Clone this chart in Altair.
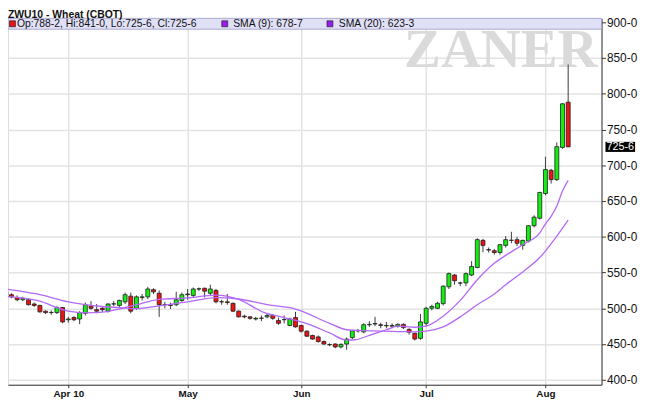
import altair as alt
import pandas as pd

# ---------------- data (trading-day index, 0 = 1 Apr 2010) ----------------
days = list(range(-11, 89))
opens = [518, 519, 515, 512, 512, 506, 504, 496, 494, 494, 501,
         484, 487, 485, 493, 503, 498, 500, 496, 506, 504, 509, 517, 500, 515, 516, 526, 521, 505, 505, 505,
         511, 519, 518, 527, 528, 521, 525, 509, 509, 507, 496, 489, 488, 485, 486, 488, 490, 483, 484, 476,
         487, 476, 468, 462, 460, 453.5, 449, 450, 446, 450, 459, 468.5, 467, 477, 478, 477, 476, 475, 475, 477.5,
         470.5, 465, 458, 479, 500, 500, 506.5, 530, 546.5, 535.5, 535.5, 546.5, 557, 595, 582, 580.5, 578, 588,
         595, 596, 588, 594, 615.5, 626, 660.5, 693, 680, 725, 788.25]
highs = [525, 521, 518, 516, 514, 508, 505, 497, 497, 503, 502,
         488, 489, 496, 508, 510, 506, 503, 507, 510, 512, 522, 522, 518, 520, 530, 528, 525, 509, 508, 523,
         522, 527, 529, 529, 529, 533, 527, 512, 520, 508, 497, 491, 489, 488, 490, 492, 492, 487, 490, 487,
         495, 477, 469, 463, 462, 455, 451, 451, 451, 459, 470, 471, 479, 482, 488, 480, 481, 479, 479, 479,
         472, 466, 492, 502, 505, 509, 532, 550, 548, 537, 550, 566, 598, 597, 585, 583, 590, 601,
         607, 600, 596, 616, 630, 663, 712, 695, 732, 787, 841]
lows = [516, 514, 510, 510, 504, 502, 494, 492, 491, 492, 479,
        480, 482, 478, 490, 498, 493, 495, 494, 503, 502, 506, 493, 498, 511, 513, 520, 488, 500, 499, 503,
        509, 512, 515, 524, 515, 518, 507, 505, 505, 495, 487, 486, 484, 483, 482, 486, 484, 477, 479, 475,
        473, 466, 460, 456, 452, 449, 447, 444, 444, 442, 457, 466, 465, 474, 475, 472, 472, 472, 473, 471,
        463, 455, 456, 475, 497, 499, 504, 527, 533, 531, 531, 545, 556, 578.5, 578, 575, 575, 585,
        591, 587, 582, 592, 613, 624, 658, 674.5, 678, 723, 725.75]
closes = [523, 516, 512, 514, 505, 504, 495, 494, 494.25, 501, 481,
          485, 484, 494, 505, 500, 496, 498, 506, 506.25, 511, 519, 496, 516, 516, 527, 523, 505, 505.25, 504, 512,
          519, 520, 527, 527.25, 524, 527, 509, 509.25, 508, 496, 488, 488, 486, 486, 486.25, 490, 486, 479, 484.25, 485,
          474, 468, 461, 457, 453.5, 450, 449.25, 446, 449.5, 457, 468.5, 468.75, 477, 477.5, 478.75, 476, 475.5, 476, 477.5, 473,
          466.5, 457, 481, 500, 502.5, 507, 531, 548.5, 538.5, 535.25, 548.5, 558.5, 596, 588, 581.5, 578, 589, 596,
          595.25, 591, 595, 615.5, 627.5, 662, 694, 680, 726, 786, 725.75]

sma9_days = [-11, -5.5, 0, 3, 6, 9, 12, 16, 21, 26, 30, 34.5, 38, 42, 46, 49, 50.5, 53, 56, 58, 61, 63,
             66, 69, 72, 75, 77, 80, 83, 84, 85, 86, 87, 88]
sma9_vals = [516.5, 511, 496, 493.5, 494.5, 499, 505, 512.5, 514.5, 518.5, 512.5, 494, 487, 478.5, 465.5, 455.5, 456,
             462, 470, 475, 473.5, 475, 489, 511, 540, 563, 574, 589, 605.5, 618, 628.5, 643, 664, 678.9]
sma20_days = [-11, -5.5, 0, 3, 6, 9, 12, 16, 21, 26, 30, 35, 40, 46, 49, 52, 55, 58, 61, 63,
              66, 69, 72, 75, 77, 80, 83, 86, 88]
sma20_vals = [527, 520, 509, 505, 502.5, 501, 499.5, 503.5, 509, 515, 513, 505, 499, 479, 470, 468.8, 468, 467.5, 467, 468,
              474, 488, 505, 520, 533, 550.9, 571, 601, 623.4]

tick_days = [0, 21, 41, 63, 84]
tick_labels = ["Apr 10", "May", "Jun", "Jul", "Aug"]
y_ticks = [400, 450, 500, 550, 600, 650, 700, 750, 800, 850, 900]

title_text = "ZWU10 - Wheat (CBOT)"
legend_labels = ["Op:788-2, Hi:841-0, Lo:725-6, Cl:725-6", "SMA (9): 678-7", "SMA (20): 623-3"]
last_price = 725.75
last_label = "725-6"
watermark = "ZANER"

# ---------------- styling ----------------
W, H = 601, 371
GREEN, RED = "#12f012", "#ee1212"
PURPLE = "#b468f7"
GRID = "#e3e3e3"
FONT = "Liberation Sans"

df = pd.DataFrame({"day": days, "open": opens, "high": highs, "low": lows, "close": closes})
s9 = pd.DataFrame({"day": sma9_days, "value": sma9_vals})
s20 = pd.DataFrame({"day": sma20_days, "value": sma20_vals})
one = pd.DataFrame({"k": [0]})

x_scale = alt.Scale(domain=[-9.744, 93.0], nice=False, zero=False)
y_scale = alt.Scale(domain=[393.09, 905.52], nice=False, zero=False)

label_expr = ("[" + ",".join("'" + t + "'" for t in tick_labels) + "][indexof(["
              + ",".join(str(d) for d in tick_days) + "], datum.value)]")

x_axis = alt.Axis(values=tick_days, labelExpr=label_expr, title=None, grid=True, gridColor=GRID,
                  gridWidth=1.5, domainColor="#333", tickColor="#333", tickSize=3, labelFont=FONT,
                  labelFontSize=10, labelFontWeight="bold", labelColor="#111", labelPadding=1,
                  labelOverlap=False)
y_axis = alt.Axis(orient="right", values=y_ticks, labelExpr="datum.value + '-0'", title=None, grid=True,
                  gridColor=GRID, gridWidth=1.5, domainColor="#333", tickColor="#333", tickSize=4,
                  labelFont=FONT, labelFontSize=12, labelColor="#111", labelPadding=1, labelOverlap=False)

X = alt.X("day:Q", scale=x_scale, axis=x_axis)

wm = alt.Chart(one).mark_text(text=watermark, font="Liberation Serif", fontSize=56, fontWeight="bold",
                               color="#dadada", align="center", baseline="alphabetic").encode(
    x=alt.value(499), y=alt.value(49))

wicks = alt.Chart(df).mark_rule(color="#3a3a3a", strokeWidth=1, clip=True).encode(
    x=X, y=alt.Y("low:Q", scale=y_scale, axis=y_axis), y2="high:Q")

bodies = alt.Chart(df).mark_bar(size=4, stroke="#1e1e1e", strokeWidth=0.8, clip=True).encode(
    x=X, y=alt.Y("open:Q", scale=y_scale, axis=y_axis), y2="close:Q",
    fill=alt.condition("datum.close >= datum.open", alt.value(GREEN), alt.value(RED)))

line9 = alt.Chart(s9).mark_line(color=PURPLE, strokeWidth=1.3, interpolate="monotone", clip=True).encode(
    x=X, y=alt.Y("value:Q", scale=y_scale, axis=y_axis))
line20 = alt.Chart(s20).mark_line(color=PURPLE, strokeWidth=1.3, interpolate="monotone", clip=True).encode(
    x=X, y=alt.Y("value:Q", scale=y_scale, axis=y_axis))

bar = alt.Chart(one).mark_rect(fill="#e0e0f7", stroke="#9c9cc8", strokeWidth=0.8).encode(
    x=alt.value(0), x2=alt.value(W), y=alt.value(0), y2=alt.value(11))


def square(xc, col):
    return alt.Chart(one).mark_point(shape="square", filled=True, size=36, fill=col, stroke="#222",
                                     strokeWidth=0.7, opacity=1).encode(x=alt.value(xc), y=alt.value(5.5))


def label(xl, txt):
    return alt.Chart(one).mark_text(text=txt, font=FONT, fontSize=10.5, color="#111", align="left",
                                    baseline="middle").encode(x=alt.value(xl), y=alt.value(6))


leg = [square(4.5, RED), label(9, legend_labels[0]),
       square(219.5, "#9b1cf0"), label(228, legend_labels[1]),
       square(326, "#9b1cf0"), label(335, legend_labels[2])]

title = alt.Chart(one).mark_text(text=title_text, font=FONT, fontSize=10.5, fontWeight="bold", color="#111",
                                  align="left", baseline="alphabetic").encode(x=alt.value(0), y=alt.value(-0.5))

tag_box = alt.Chart(one).mark_point(shape="M-1,-0.34H1V0.34H-1Z", size=900, filled=True, fill="#000",
                                    opacity=1, strokeWidth=0).encode(
    x=alt.value(620), y=alt.Y(datum=last_price, scale=y_scale, axis=y_axis))
tag_text = alt.Chart(one).mark_text(text=last_label, font=FONT, fontSize=11, color="#fff", align="center",
                                    baseline="middle").encode(
    x=alt.value(620), y=alt.Y(datum=last_price, scale=y_scale, axis=y_axis))

chart = alt.layer(wm, wicks, bodies, line20, line9, bar, *leg, title, tag_box, tag_text).properties(
    width=W, height=H, autosize="none",
    padding={"left": 0, "top": 8, "right": 41, "bottom": 15},
).configure_view(stroke="#333", strokeWidth=1).configure(background="white")

chart.save("out.html", embed_options={"renderer": "svg", "actions": False})
